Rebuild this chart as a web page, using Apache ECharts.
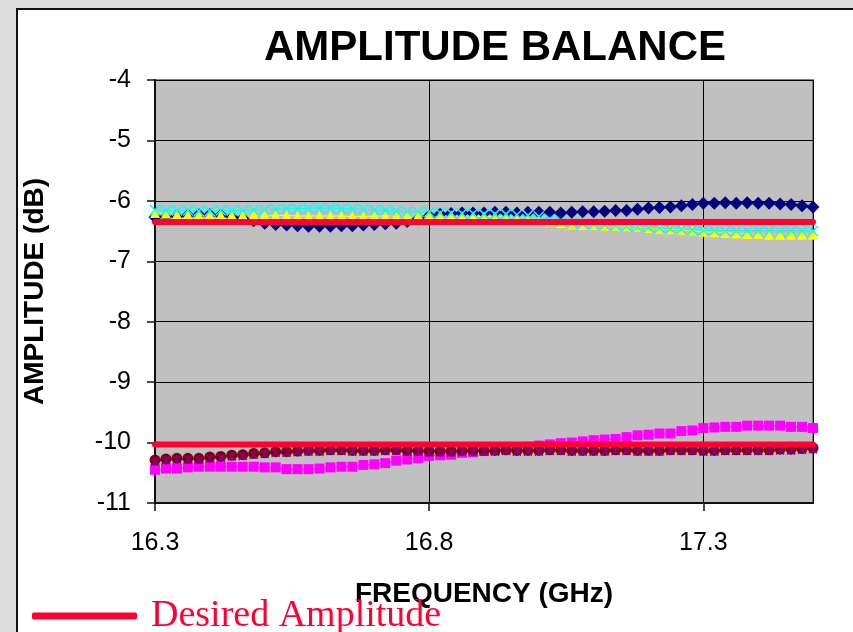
<!DOCTYPE html>
<html>
<head>
<meta charset="utf-8">
<script src="https://cdn.jsdelivr.net/npm/echarts@6/dist/echarts.min.js"></script>
<style>
html,body{margin:0;padding:0;width:853px;height:632px;overflow:hidden;background:#dcdcdc;}
#frame{position:absolute;left:16px;top:8px;width:900px;height:700px;background:#fff;border-left:2px solid #111;border-top:2px solid #111;}
#chart{position:absolute;left:0;top:0;width:853px;height:632px;}
</style>
</head>
<body>
<div id="frame"></div>
<div id="chart"></div>
<script>
// ---- data ----
const freq = [16.30,16.32,16.34,16.36,16.38,16.40,16.42,16.44,16.46,16.48,16.50,16.52,16.54,16.56,16.58,16.60,16.62,16.64,16.66,16.68,16.70,16.72,16.74,16.76,16.78,16.80,16.82,16.84,16.86,16.88,16.90,16.92,16.94,16.96,16.98,17.00,17.02,17.04,17.06,17.08,17.10,17.12,17.14,17.16,17.18,17.20,17.22,17.24,17.26,17.28,17.30,17.32,17.34,17.36,17.38,17.40,17.42,17.44,17.46,17.48,17.50];
const xTickLabels = ['16.3','16.8','17.3'];
const yTickLabels = ['-11','-10','-9','-8','-7','-6','-5','-4'];

const navy = [-6.27,-6.26,-6.25,-6.24,-6.23,-6.23,-6.24,-6.26,-6.29,-6.33,
-6.37,-6.39,-6.40,-6.41,-6.42,-6.42,-6.42,-6.41,-6.41,-6.40,
-6.39,-6.38,-6.37,-6.34,-6.30,-6.25,-6.22,-6.21,-6.20,-6.20,
-6.20,-6.19,-6.19,-6.20,-6.19,-6.19,-6.19,-6.20,-6.19,-6.18,
-6.18,-6.17,-6.16,-6.16,-6.14,-6.12,-6.11,-6.10,-6.08,-6.06,
-6.04,-6.04,-6.03,-6.04,-6.03,-6.04,-6.04,-6.05,-6.06,-6.08,
-6.10];
const yellow = [-6.20,-6.21,-6.22,-6.22,-6.22,-6.22,-6.23,-6.23,-6.23,-6.23,
-6.23,-6.24,-6.24,-6.25,-6.25,-6.25,-6.25,-6.25,-6.26,-6.26,
-6.25,-6.25,-6.24,-6.24,-6.23,-6.23,-6.24,-6.24,-6.25,-6.25,
-6.26,-6.26,-6.27,-6.28,-6.29,-6.31,-6.34,-6.37,-6.39,-6.40,
-6.40,-6.41,-6.41,-6.42,-6.43,-6.45,-6.46,-6.47,-6.48,-6.49,
-6.51,-6.52,-6.53,-6.54,-6.55,-6.55,-6.56,-6.56,-6.56,-6.56,
-6.56];
const cyan = [-6.15,-6.16,-6.16,-6.16,-6.17,-6.17,-6.16,-6.16,-6.16,-6.15,
-6.15,-6.14,-6.13,-6.13,-6.12,-6.12,-6.12,-6.13,-6.13,-6.14,
-6.15,-6.16,-6.17,-6.18,-6.18,-6.19,-6.20,-6.20,-6.21,-6.21,
-6.22,-6.22,-6.22,-6.23,-6.24,-6.26,-6.30,-6.34,-6.37,-6.38,
-6.39,-6.40,-6.41,-6.42,-6.43,-6.44,-6.45,-6.46,-6.47,-6.48,
-6.49,-6.49,-6.50,-6.50,-6.50,-6.50,-6.50,-6.50,-6.50,-6.50,
-6.50];
const magenta = [-10.45,-10.43,-10.43,-10.41,-10.40,-10.40,-10.40,-10.40,-10.40,-10.40,
-10.41,-10.41,-10.44,-10.44,-10.44,-10.43,-10.41,-10.40,-10.40,-10.37,
-10.36,-10.34,-10.30,-10.28,-10.26,-10.22,-10.21,-10.20,-10.17,-10.16,
-10.14,-10.12,-10.11,-10.09,-10.07,-10.05,-10.03,-10.01,-10.00,-9.98,
-9.96,-9.95,-9.94,-9.91,-9.88,-9.87,-9.85,-9.85,-9.81,-9.80,
-9.76,-9.75,-9.74,-9.74,-9.72,-9.72,-9.72,-9.72,-9.74,-9.74,
-9.76];
const darkred = [-10.29,-10.27,-10.26,-10.26,-10.26,-10.24,-10.23,-10.21,-10.20,-10.18,
-10.17,-10.15,-10.15,-10.14,-10.13,-10.13,-10.12,-10.12,-10.13,-10.13,
-10.13,-10.12,-10.12,-10.13,-10.13,-10.14,-10.14,-10.14,-10.13,-10.13,
-10.13,-10.13,-10.12,-10.13,-10.13,-10.13,-10.12,-10.12,-10.13,-10.13,
-10.13,-10.13,-10.12,-10.12,-10.13,-10.13,-10.13,-10.12,-10.12,-10.12,
-10.13,-10.13,-10.12,-10.12,-10.12,-10.12,-10.12,-10.11,-10.11,-10.10,
-10.09];
const purple = [-10.31,-10.29,-10.28,-10.28,-10.28,-10.26,-10.25,-10.23,-10.22,-10.20,
-10.19,-10.17,-10.17,-10.16,-10.15,-10.15,-10.14,-10.14,-10.15,-10.15,
-10.15,-10.14,-10.14,-10.15,-10.15,-10.16,-10.16,-10.16,-10.15,-10.15,
-10.15,-10.15,-10.14,-10.15,-10.15,-10.15,-10.14,-10.14,-10.15,-10.15,
-10.15,-10.15,-10.14,-10.14,-10.15,-10.15,-10.15,-10.14,-10.14,-10.14,
-10.15,-10.15,-10.14,-10.14,-10.14,-10.14,-10.14,-10.13,-10.13,-10.12,
-10.11];
const desiredFreq = [16.3, 17.5];
const desiredHigh = [-6.35, -6.35];
const desiredLow = [-10.03, -10.03];

// ---- build ----
const pair = (xs, ys) => xs.map((x, i) => [x, ys[i]]);
const RED = '#ff0033';
function markerSeries(name, ys, color, symbol, size, stroke) {
  return {
    name, type: 'line', data: pair(freq, ys), clip: false,
    symbol, symbolSize: size, showSymbol: true,
    lineStyle: { color, width: 1 },
    itemStyle: stroke ? { color: 'rgba(0,0,0,0)', borderColor: color, borderWidth: 1.5 } : { color, borderWidth: 0 },
    emphasis: { disabled: true }
  };
}
function desiredSeries(ys) {
  return {
    name: 'Desired Amplitude', type: 'line', data: pair(desiredFreq, ys), clip: false,
    symbol: 'none', lineStyle: { color: RED, width: 6, cap: 'round' },
    itemStyle: { color: RED }, emphasis: { disabled: true }, z: 5
  };
}
const X_PATH = 'path://M0,0L10,10M10,0L0,10';
const STAR_PATH = 'path://M0,0L10,10M10,0L0,10M5,0L5,10';

const chart = echarts.init(document.getElementById('chart'));
chart.setOption({
  animation: false,
  title: {
    text: 'AMPLITUDE BALANCE', left: 259, top: 22,
    textStyle: { fontFamily: 'Liberation Sans', fontWeight: 'bold', fontSize: 42, color: '#000' }
  },
  legend: {
    data: [{ name: 'Desired Amplitude', icon: 'roundRect' }], left: 32, top: 597,
    itemWidth: 105, itemHeight: 7, padding: 0,
    itemStyle: { color: RED, borderWidth: 0 },
    textStyle: { fontFamily: 'Liberation Serif', fontSize: 38, color: RED, padding: [0, 0, 0, 9] }
  },
  grid: { left: 155, right: 40, top: 80, bottom: 129, show: true, backgroundColor: '#c0c0c0', borderColor: '#808080', borderWidth: 2 },
  xAxis: {
    type: 'value', min: 16.3, max: 17.5, interval: 0.5,
    name: 'FREQUENCY (GHz)', nameLocation: 'middle', nameGap: 77,
    nameTextStyle: { fontFamily: 'Liberation Sans', fontWeight: 'bold', fontSize: 28, color: '#000' },
    axisLine: { show: true, lineStyle: { color: '#111', width: 2 } },
    axisTick: { show: true, inside: false, length: 8, lineStyle: { color: '#111', width: 1.5 } },
    axisLabel: {
      margin: 28, fontFamily: 'Liberation Sans', fontSize: 25, color: '#000', showMaxLabel: false,
      formatter: v => { const s = v.toFixed(1); return xTickLabels.includes(s) ? s : ''; }
    },
    splitLine: { show: true, lineStyle: { color: '#000', width: 1 } }
  },
  yAxis: {
    type: 'value', min: -11, max: -4, interval: 1,
    name: 'AMPLITUDE (dB)', nameLocation: 'middle', nameGap: 106, nameRotate: 90,
    nameTextStyle: { fontFamily: 'Liberation Sans', fontWeight: 'bold', fontSize: 28, color: '#000' },
    axisLine: { show: true, lineStyle: { color: '#111', width: 2 } },
    axisTick: { show: true, inside: false, length: 8, lineStyle: { color: '#111', width: 1.5 } },
    axisLabel: {
      margin: 24, fontFamily: 'Liberation Sans', fontSize: 25, color: '#000',
      formatter: v => { const s = String(Math.round(v)); return yTickLabels.includes(s) ? s : ''; }
    },
    splitLine: { show: true, lineStyle: { color: '#000', width: 1 } }
  },
  series: [
    markerSeries('S1', navy, '#000080', 'diamond', 13, false),
    markerSeries('S2', yellow, '#ffff00', 'triangle', 10, false),
    markerSeries('S3', cyan, '#00ffff', X_PATH, 10, true),
    markerSeries('S4', magenta, '#ff00ff', 'rect', 10, false),
    markerSeries('S5', darkred, '#800000', 'circle', 11, false),
    markerSeries('S6', purple, '#800080', STAR_PATH, 8, true),
    desiredSeries(desiredHigh),
    desiredSeries(desiredLow)
  ]
});
</script>
</body>
</html>
